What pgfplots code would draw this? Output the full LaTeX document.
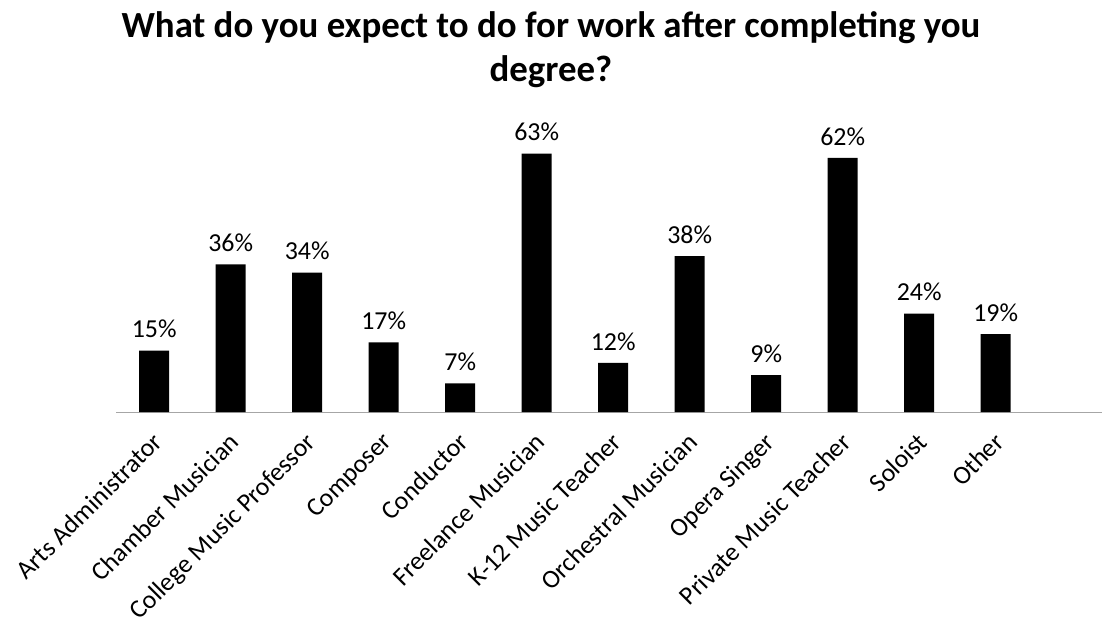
\documentclass[border=0pt]{standalone}
\usepackage{pgfplots}
\pgfplotsset{compat=1.18}
\usepackage{fontspec}
\setmainfont{Carlito}
\begin{document}
\begin{tikzpicture}
\useasboundingbox (0bp,0bp) rectangle (1102bp,628bp);
\node[font=\fontsize{37}{44}\selectfont\bfseries, anchor=base] at (551bp,590bp) {What do you expect to do for work after completing you};
\node[font=\fontsize{37}{44}\selectfont\bfseries, anchor=base] at (551bp,546bp) {degree?};
\begin{axis}[
  at={(116bp,216bp)}, anchor=south west,
  scale only axis, width=986bp, height=287bp,
  xmin=-0.5, xmax=12.39, ymin=0, ymax=70,
  axis x line=bottom, axis y line=none,
  x axis line style={draw=gray!70, -, line width=0.8bp},
  ybar, bar width=30bp,
  xtick={0,...,11},
  xticklabels={Arts Administrator, Chamber Musician, College Music Professor, Composer, Conductor, Freelance Musician, K-12 Music Teacher, Orchestral Musician, Opera Singer, Private Music Teacher, Soloist, Other},
  xticklabel style={yshift=-16bp, xshift=-3bp, rotate=45, anchor=north east, font=\fontsize{26}{30}\selectfont, inner sep=2bp},
  major tick length=0pt,
  /pgf/number format/assume math mode=true,
  nodes near coords={\pgfmathprintnumber{\pgfplotspointmeta}\%},
  every node near coord/.append style={font=\fontsize{26}{30}\selectfont, black, yshift=9bp},
  clip=false,
]
\addplot[fill=black, draw=none] coordinates {
(0,15) (1,36) (2,34) (3,17) (4,7) (5,63) (6,12) (7,38) (8,9) (9,62) (10,24) (11,19)
};
\end{axis}
\end{tikzpicture}
\end{document}
